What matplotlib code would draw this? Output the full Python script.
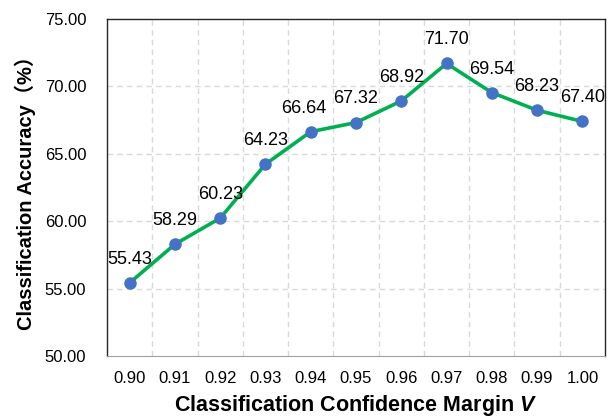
import matplotlib.pyplot as plt
import numpy as np

plt.rcParams['font.family'] = ['Liberation Sans', 'Noto Sans CJK SC', 'DejaVu Sans']
plt.rcParams['mathtext.fontset'] = 'custom'
plt.rcParams['mathtext.bfit'] = 'Liberation Sans:italic:bold'
plt.rcParams['mathtext.it'] = 'Liberation Sans:italic'
plt.rcParams['mathtext.rm'] = 'Liberation Sans'

# data
margins = ['0.90', '0.91', '0.92', '0.93', '0.94', '0.95', '0.96', '0.97', '0.98', '0.99', '1.00']
accuracy = [55.43, 58.29, 60.23, 64.23, 66.64, 67.32, 68.92, 71.70, 69.54, 68.23, 67.40]
leader = [False, False, False, False, True, False, False, True, False, False, False]

fig = plt.figure(figsize=(6.13, 4.17), dpi=100)
ax = fig.add_axes([0.1746, 0.1463, 0.8124, 0.8081])

x = np.arange(len(margins))
ax.plot(x, accuracy, color='#00B050', linewidth=2.6, zorder=3)
ax.plot(x, accuracy, 'o', color='#4472C4', markersize=8, zorder=4)

for i, v in enumerate(accuracy):
    dx = 0
    if i == 4:
        dx = -5
    if leader[i]:
        ax.annotate('%.2f' % v, (x[i], v), xytext=(dx, 17), textcoords='offset points',
                    ha='center', va='center', fontsize=13,
                    arrowprops=dict(arrowstyle='-', color='#A6A6A6', lw=0.8,
                                    shrinkA=7, shrinkB=3))
    else:
        ax.annotate('%.2f' % v, (x[i], v), xytext=(dx, 17), textcoords='offset points',
                    ha='center', va='center', fontsize=13)

ax.set_xlim(-0.5, len(margins) - 0.5)
ax.set_ylim(50, 75)
ax.set_xticks(x)
ax.set_xticklabels(margins)
ax.set_yticks([50, 55, 60, 65, 70, 75])
ax.set_yticklabels(['%.2f' % t for t in [50, 55, 60, 65, 70, 75]])
ax.tick_params(length=0, labelsize=12)
ax.tick_params(axis='x', pad=11)
ax.tick_params(axis='y', pad=15)

# grid: horizontal at major ticks, vertical between categories
for yv in [55, 60, 65, 70]:
    ax.axhline(yv, color='#D9D9D9', linestyle=(0, (4, 3)), linewidth=1, zorder=1)
for xv in np.arange(0.5, len(margins) - 0.5, 1):
    ax.axvline(xv, color='#D9D9D9', linestyle=(0, (4, 3)), linewidth=1, zorder=1)

for s in ['left', 'top', 'right']:
    ax.spines[s].set_color('#262626')
    ax.spines[s].set_linewidth(1.0)
ax.spines['bottom'].set_color('#A0A0A0')

ax.set_xlabel(r'Classification Confidence Margin $\mathbfit{V}$', fontsize=15.5,
              fontweight='bold', labelpad=5)
ax.set_ylabel('Classification Accuracy（%）', fontsize=14.5, fontweight='bold', labelpad=6)

fig.savefig('out.png', dpi=100)
